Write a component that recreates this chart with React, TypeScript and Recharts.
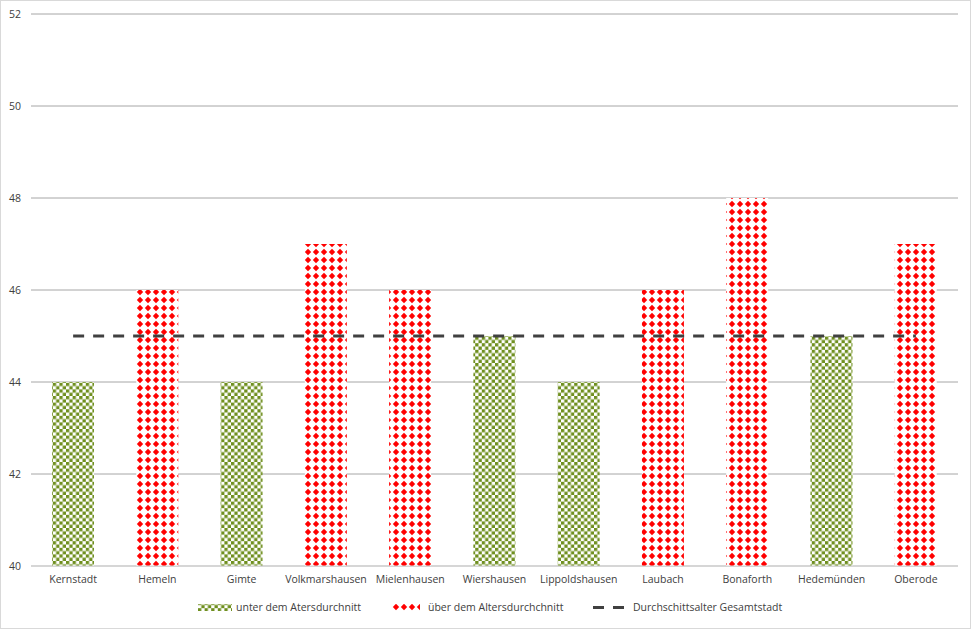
import React from 'react';
import { ComposedChart, Bar, Line, XAxis, YAxis, CartesianGrid, Cell } from 'recharts';

const categories = [
  'Kernstadt', 'Hemeln', 'Gimte', 'Volkmarshausen', 'Mielenhausen', 'Wiershausen',
  'Lippoldshausen', 'Laubach', 'Bonaforth', 'Hedemünden', 'Oberode'
];
const ages = [44, 46, 44, 47, 46, 45, 44, 46, 48, 45, 47];
const cityAverage = 45;
const yTicks = [40, 42, 44, 46, 48, 50, 52];

const legendLabels = [
  'unter dem Atersdurchnitt',
  'über dem Altersdurchchnitt',
  'Durchschittsalter Gesamtstadt'
];

const GREEN = '#6f8f1f';
const RED = '#ff0000';
const FONT = '"Open Sans", "Noto Sans", sans-serif';

const data = categories.map((name, i) => ({ name, age: ages[i], avg: cityAverage }));

const ChartLegend = () => (
  <svg width={975} height={30} style={{ position: 'absolute', left: 0, top: 595 }}>
    <rect x={198} y={9} width={34} height={7} fill="url(#greenCheck)" />
    <text x={236} y={16} fontSize={10.5} fill="#404040" fontFamily={FONT}>{legendLabels[0]}</text>
    <rect x={392} y={9} width={28} height={7} fill="url(#redDiamond)" />
    <text x={428} y={16} fontSize={10.5} fill="#404040" fontFamily={FONT}>{legendLabels[1]}</text>
    <line x1={593} y1={12.5} x2={625} y2={12.5} stroke="#404040" strokeWidth={3} strokeDasharray="11 9" />
    <text x={633} y={16} fontSize={10.5} fill="#404040" fontFamily={FONT}>{legendLabels[2]}</text>
  </svg>
);

export default function App() {
  return (
    <div style={{ position: 'relative', width: 975, height: 629 }}>
      <style>{'body{margin:0;background:#fff;}'}</style>
      <div style={{ position: 'absolute', left: 0, top: 0, width: 971, height: 629, border: '1px solid #d9d9d9', boxSizing: 'border-box' }} />
      <svg width={0} height={0} style={{ position: 'absolute' }}>
        <defs>
          <pattern id="greenCheck" patternUnits="userSpaceOnUse" width={6.6} height={6.6}>
            <rect width={6.6} height={6.6} fill="#fff" />
            <rect x={0} y={0} width={3.3} height={3.3} fill={GREEN} />
            <rect x={3.3} y={3.3} width={3.3} height={3.3} fill={GREEN} />
          </pattern>
          <pattern id="redDiamond" patternUnits="userSpaceOnUse" width={8} height={8}>
            <rect width={8} height={8} fill="#fff" />
            <polygon points="4,0.8 7.2,4 4,7.2 0.8,4" fill={RED} />
          </pattern>
        </defs>
      </svg>
      <div style={{ position: 'absolute', left: 0, top: 0 }}>
        <ComposedChart
          width={975}
          height={629}
          data={data}
          margin={{ top: 14, right: 17, left: 0, bottom: 33 }}
          barSize={42}
        >
          <CartesianGrid vertical={false} stroke="#a6a6a6" />
          <XAxis
            dataKey="name"
            height={30}
            axisLine={{ stroke: '#d9d9d9' }}
            tickLine={false}
            tickMargin={4}
            interval={0}
            tick={{ fill: '#404040', fontSize: 10.5, fontFamily: FONT }}
          />
          <YAxis
            width={31}
            domain={[40, 52]}
            ticks={yTicks}
            axisLine={false}
            tickLine={false}
            tickMargin={4}
            tick={{ fill: '#404040', fontSize: 10.5, fontFamily: FONT }}
          />
          <Bar dataKey="age" isAnimationActive={false}>
            {data.map((d, i) => (
              <Cell key={`c-${i}`} fill={d.age > cityAverage ? 'url(#redDiamond)' : 'url(#greenCheck)'} />
            ))}
          </Bar>
          <Line
            dataKey="avg"
            stroke="#404040"
            strokeWidth={3}
            strokeDasharray="11 9"
            dot={false}
            activeDot={false}
            isAnimationActive={false}
          />
        </ComposedChart>
      </div>
      <ChartLegend />
    </div>
  );
}
